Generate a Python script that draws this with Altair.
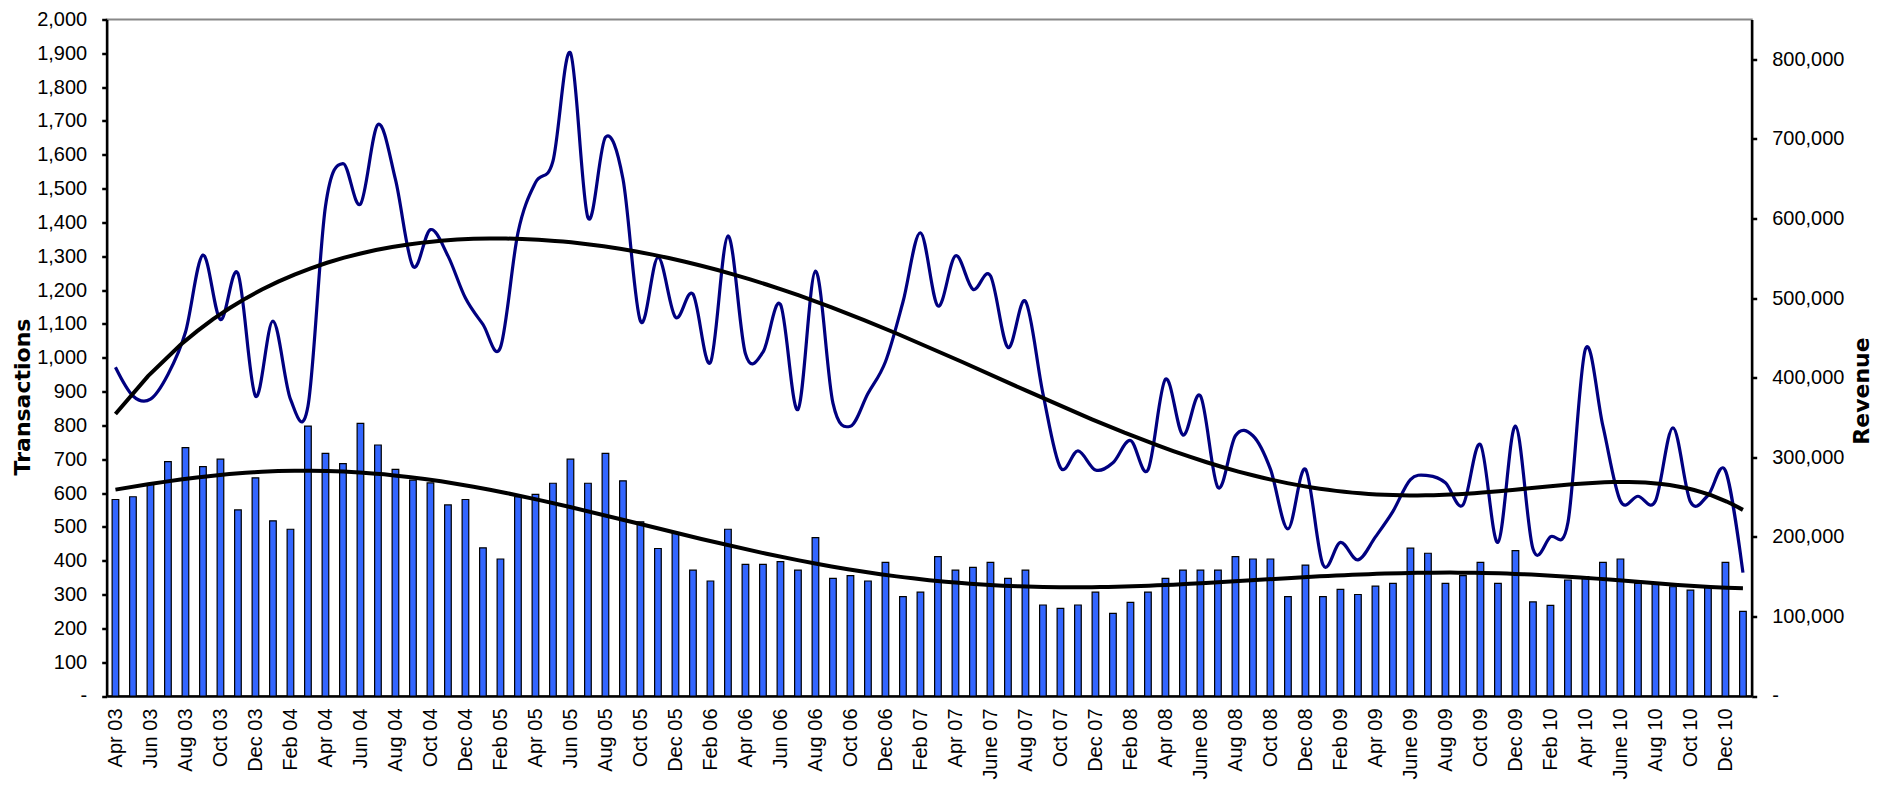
import json
import altair as alt
import pandas as pd

# ---- data ----
tick_labels = ["Apr 03", "Jun 03", "Aug 03", "Oct 03", "Dec 03",
               "Feb 04", "Apr 04", "Jun 04", "Aug 04", "Oct 04", "Dec 04",
               "Feb 05", "Apr 05", "Jun 05", "Aug 05", "Oct 05", "Dec 05",
               "Feb 06", "Apr 06", "Jun 06", "Aug 06", "Oct 06", "Dec 06",
               "Feb 07", "Apr 07", "June 07", "Aug 07", "Oct 07", "Dec 07",
               "Feb 08", "Apr 08", "June 08", "Aug 08", "Oct 08", "Dec 08",
               "Feb 09", "Apr 09", "June 09", "Aug 09", "Oct 09", "Dec 09",
               "Feb 10", "Apr 10", "June 10", "Aug 10", "Oct 10", "Dec 10"]

transactions = [581, 589, 628, 693, 734, 678, 700, 550, 645, 518, 493, 798,
                717, 687, 806, 742, 670, 638, 630, 565, 581, 438, 405, 589,
                596, 629, 700, 629, 717, 636, 515, 436, 481, 372, 340, 493,
                389, 389, 397, 372, 468, 348, 356, 340, 395, 294, 307, 412,
                372, 380, 395, 348, 372, 269, 259, 269, 307, 244, 277, 307,
                348, 372, 372, 372, 412, 405, 405, 294, 387, 294, 315, 300,
                325, 333, 437, 422, 333, 356, 395, 333, 430, 278, 268, 343,
                353, 395, 405, 333, 333, 323, 313, 323, 395, 250]

revenue = [413000, 377000, 373000, 404000, 457000, 554000, 473000, 531000,
           377000, 471000, 373000, 364000, 615000, 669000, 618000, 718000,
           649000, 540000, 586000, 553000, 500000, 467000, 438000, 582000,
           645000, 672000, 808000, 601000, 702000, 650000, 471000, 551000,
           476000, 505000, 419000, 578000, 430000, 432000, 492000, 360000,
           534000, 368000, 339000, 380000, 420000, 495000, 582000, 490000,
           553000, 511000, 528000, 438000, 496000, 380000, 287000, 308000,
           284000, 293000, 321000, 284000, 398000, 328000, 377000, 262000,
           327000, 327000, 285000, 210000, 285000, 165000, 193000, 171000,
           200000, 232000, 272000, 277000, 268000, 240000, 316000, 193000,
           339000, 185000, 200000, 218000, 436000, 339000, 245000, 251000,
           245000, 337000, 244000, 252000, 283000, 155000]

n = len(transactions)
df = pd.DataFrame({"idx": list(range(n)),
                   "transactions": transactions,
                   "revenue": revenue})

FONT = "Liberation Sans Narrow, Arial Narrow, Liberation Sans, sans-serif"
TITLE_FONT = "DejaVu Sans, Liberation Sans, sans-serif"

xscale = alt.Scale(domain=[0, n], nice=False, zero=False)
x_axis = alt.Axis(
    values=[i + 0.5 for i in range(0, n - 1, 2)],
    labelExpr=json.dumps(tick_labels) + "[round((datum.value - 0.5) / 2)]",
    labelAngle=270, labelFont=FONT, labelFontSize=20, labelPadding=12,
    ticks=False, domainWidth=2.5, domainColor="black", title=None,
    labelOverlap=False, labelBound=False, labelFlush=False,
)

left_axis = alt.Axis(
    title="Transactions", values=list(range(0, 2001, 100)),
    labelExpr="datum.value == 0 ? '-\u00a0\u00a0' : format(datum.value, ',')",
    tickSize=5, tickWidth=2.5, domainWidth=2.5, labelPadding=15,
    labelFont=FONT, labelFontSize=20,
    titleFont=TITLE_FONT, titleFontSize=22, titleFontWeight="bold",
    titleAngle=270, titleX=-84, titleY=377, titleAlign="center",
    titleBaseline="middle",
)

right_axis = alt.Axis(
    orient="right", title="Revenue", values=list(range(0, 800001, 100000)),
    labelExpr="datum.value == 0 ? '-' : format(datum.value, ',')",
    tickSize=5, tickWidth=2.5, domainWidth=2.5, labelPadding=15,
    labelFont=FONT, labelFontSize=20,
    titleFont=TITLE_FONT, titleFontSize=22, titleFontWeight="bold",
    titleAngle=270, titleX=110, titleY=371, titleAlign="center",
    titleBaseline="middle",
)

yscale_t = alt.Scale(domain=[0, 2000], nice=False)
yscale_r = alt.Scale(domain=[0, 850000], nice=False)

base = alt.Chart(df)

bars = base.transform_calculate(
    x0="datum.idx + 0.31", x1="datum.idx + 0.69"
).mark_bar(color="#3366ff", stroke="black", strokeWidth=1.2).encode(
    x=alt.X("x0:Q", scale=xscale, axis=x_axis),
    x2="x1:Q",
    y=alt.Y("transactions:Q", scale=yscale_t, axis=left_axis),
    y2=alt.datum(0),
)

trans_trend = base.transform_calculate(
    xc="datum.idx + 0.5"
).transform_regression(
    "xc", "transactions", method="poly", order=6
).mark_line(color="black", strokeWidth=4).encode(
    x=alt.X("xc:Q", scale=xscale, axis=x_axis),
    y=alt.Y("transactions:Q", scale=yscale_t, axis=left_axis),
)

rev_line = base.transform_calculate(
    xc="datum.idx + 0.5"
).mark_line(color="#000080", strokeWidth=3.2, interpolate="cardinal").encode(
    x=alt.X("xc:Q", scale=xscale, axis=x_axis),
    y=alt.Y("revenue:Q", scale=yscale_r, axis=right_axis),
)

rev_trend = base.transform_calculate(
    xc="datum.idx + 0.5"
).transform_regression(
    "xc", "revenue", method="poly", order=6
).mark_line(color="black", strokeWidth=4).encode(
    x=alt.X("xc:Q", scale=xscale, axis=x_axis),
    y=alt.Y("revenue:Q", scale=yscale_r, axis=right_axis),
)

chart = alt.layer(
    alt.layer(bars, trans_trend),
    alt.layer(rev_line, rev_trend),
).resolve_scale(y="independent").properties(
    width=1645, height=676.5,
    autosize=alt.AutoSizeParams(type="none"),
    padding={"left": 98.7, "top": 11.5, "right": 121, "bottom": 105},
    background="white",
).configure_view(
    stroke="#888888", strokeWidth=2
).configure_axis(
    grid=False, domainColor="black", tickColor="black", labelColor="black",
    titleColor="black",
)

chart.save("out.html", embed_options={"renderer": "svg", "actions": False})
